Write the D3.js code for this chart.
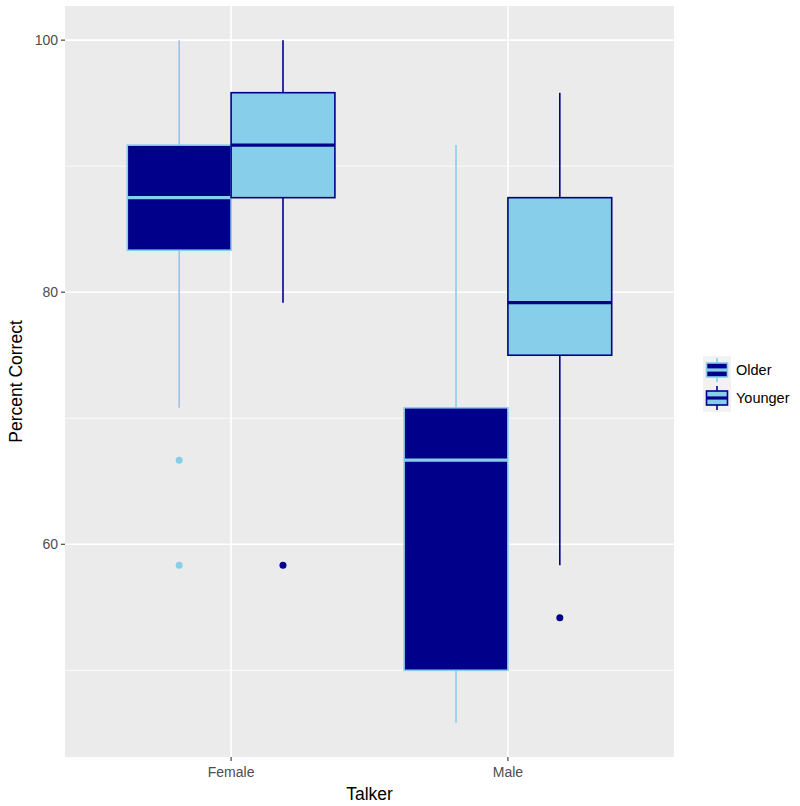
<!DOCTYPE html>
<html><head><meta charset="utf-8">
<script src="https://cdn.jsdelivr.net/npm/d3@7"></script>
<style>body{margin:0;background:#fff}</style>
</head><body>
<svg id="c" width="800" height="806"></svg>
<script>
const talkers = ["Female", "Male"];
const groups = ["Older", "Younger"];
const lowerWhisker = [70.83, 79.17, 45.83, 58.33];
const q1 =           [83.33, 87.5, 50.0, 75.0];
const median =       [87.5, 91.67, 66.67, 79.17];
const q3 =           [91.67, 95.83, 70.83, 87.5];
const upperWhisker = [100, 100, 91.67, 95.83];
const boxTalker = ["Female", "Female", "Male", "Male"];
const boxGroup = ["Older", "Younger", "Older", "Younger"];
const outlierTalker = ["Female", "Female", "Female", "Male"];
const outlierGroup = ["Older", "Older", "Younger", "Younger"];
const outlierValue = [66.67, 58.33, 58.33, 54.17];
const yTicks = [60, 80, 100];
const yMinor = [50, 70, 90];

const fillC = {Older: "#00008B", Younger: "#87CEEB"};
const lineC = {Older: "#87CEEB", Younger: "#00008B"};

const svg = d3.select("#c");
const P = {l: 65, r: 674, t: 6, b: 757};
const dmin = 45.83, dmax = 100, pad = (dmax - dmin) * 0.05;
const y = d3.scaleLinear().domain([dmin - pad, dmax + pad]).range([P.b, P.t]);
const x = d3.scalePoint().domain(talkers).range([P.l, P.r]).padding(0.6);
const step = x.step();
const bw = step * 0.375;
const xg = d3.scaleBand().domain(groups).range([-bw, bw]);

svg.append("rect").attr("x", P.l).attr("y", P.t).attr("width", P.r - P.l).attr("height", P.b - P.t).attr("fill", "#EBEBEB");
const g = svg.append("g");
yMinor.forEach(v => g.append("line").attr("x1", P.l).attr("x2", P.r).attr("y1", y(v)).attr("y2", y(v)).attr("stroke", "#fff").attr("stroke-width", 0.8));
yTicks.forEach(v => g.append("line").attr("x1", P.l).attr("x2", P.r).attr("y1", y(v)).attr("y2", y(v)).attr("stroke", "#fff").attr("stroke-width", 1.6));
talkers.forEach(t => g.append("line").attr("x1", x(t)).attr("x2", x(t)).attr("y1", P.t).attr("y2", P.b).attr("stroke", "#fff").attr("stroke-width", 1.6));

for (let i = 0; i < q1.length; i++) {
  const grp = boxGroup[i];
  const x0 = x(boxTalker[i]) + xg(grp);
  const cx = x0 + bw / 2;
  const b = g.append("g");
  b.append("line").attr("x1", cx).attr("x2", cx).attr("y1", y(upperWhisker[i])).attr("y2", y(q3[i])).attr("stroke", lineC[grp]).attr("stroke-width", 1.6);
  b.append("line").attr("x1", cx).attr("x2", cx).attr("y1", y(q1[i])).attr("y2", y(lowerWhisker[i])).attr("stroke", lineC[grp]).attr("stroke-width", 1.6);
  b.append("rect").attr("x", x0).attr("y", y(q3[i])).attr("width", bw).attr("height", y(q1[i]) - y(q3[i]))
    .attr("fill", fillC[grp]).attr("stroke", lineC[grp]).attr("stroke-width", 1.6);
  b.append("line").attr("x1", x0).attr("x2", x0 + bw).attr("y1", y(median[i])).attr("y2", y(median[i])).attr("stroke", lineC[grp]).attr("stroke-width", 3.2);
}
for (let i = 0; i < outlierValue.length; i++) {
  const grp = outlierGroup[i];
  g.append("circle").attr("cx", x(outlierTalker[i]) + xg(grp) + bw / 2).attr("cy", y(outlierValue[i])).attr("r", 3.5).attr("fill", lineC[grp]);
}

const ax = svg.append("g").attr("font-family", "Liberation Sans, Arial, sans-serif");
yTicks.forEach(v => {
  ax.append("line").attr("x1", P.l - 4).attr("x2", P.l).attr("y1", y(v)).attr("y2", y(v)).attr("stroke", "#333").attr("stroke-width", 1.1);
  ax.append("text").attr("x", P.l - 7).attr("y", y(v)).attr("dy", "0.35em").attr("text-anchor", "end").attr("font-size", 14).attr("fill", "#4D4D4D").text(v);
});
talkers.forEach(t => {
  ax.append("line").attr("x1", x(t)).attr("x2", x(t)).attr("y1", P.b).attr("y2", P.b + 4).attr("stroke", "#333").attr("stroke-width", 1.1);
  ax.append("text").attr("x", x(t)).attr("y", P.b + 20).attr("text-anchor", "middle").attr("font-size", 14).attr("fill", "#4D4D4D").text(t);
});
ax.append("text").attr("x", (P.l + P.r) / 2).attr("y", 800).attr("text-anchor", "middle").attr("font-size", 17.5).attr("fill", "#000").text("Talker");
ax.append("text").attr("transform", `translate(22,${(P.t + P.b) / 2}) rotate(-90)`).attr("text-anchor", "middle").attr("font-size", 17.5).attr("fill", "#000").text("Percent Correct");

const lg = svg.append("g").attr("font-family", "Liberation Sans, Arial, sans-serif");
groups.forEach((grp, i) => {
  const ky = 356 + i * 28, kx = 703, ks = 28;
  lg.append("rect").attr("x", kx).attr("y", ky).attr("width", ks).attr("height", ks).attr("fill", "#F2F2F2");
  const cx = kx + ks / 2;
  lg.append("line").attr("x1", cx).attr("x2", cx).attr("y1", ky + 2).attr("y2", ky + ks - 2).attr("stroke", lineC[grp]).attr("stroke-width", 1.6);
  lg.append("rect").attr("x", kx + 3.5).attr("y", ky + 7).attr("width", ks - 7).attr("height", ks - 14).attr("fill", fillC[grp]).attr("stroke", lineC[grp]).attr("stroke-width", 1.6);
  lg.append("line").attr("x1", kx + 3.5).attr("x2", kx + ks - 3.5).attr("y1", ky + ks / 2).attr("y2", ky + ks / 2).attr("stroke", lineC[grp]).attr("stroke-width", 3.2);
  lg.append("text").attr("x", kx + ks + 5).attr("y", ky + ks / 2).attr("dy", "0.35em").attr("font-size", 14.5).attr("fill", "#000").text(grp);
});
</script>
</body></html>
